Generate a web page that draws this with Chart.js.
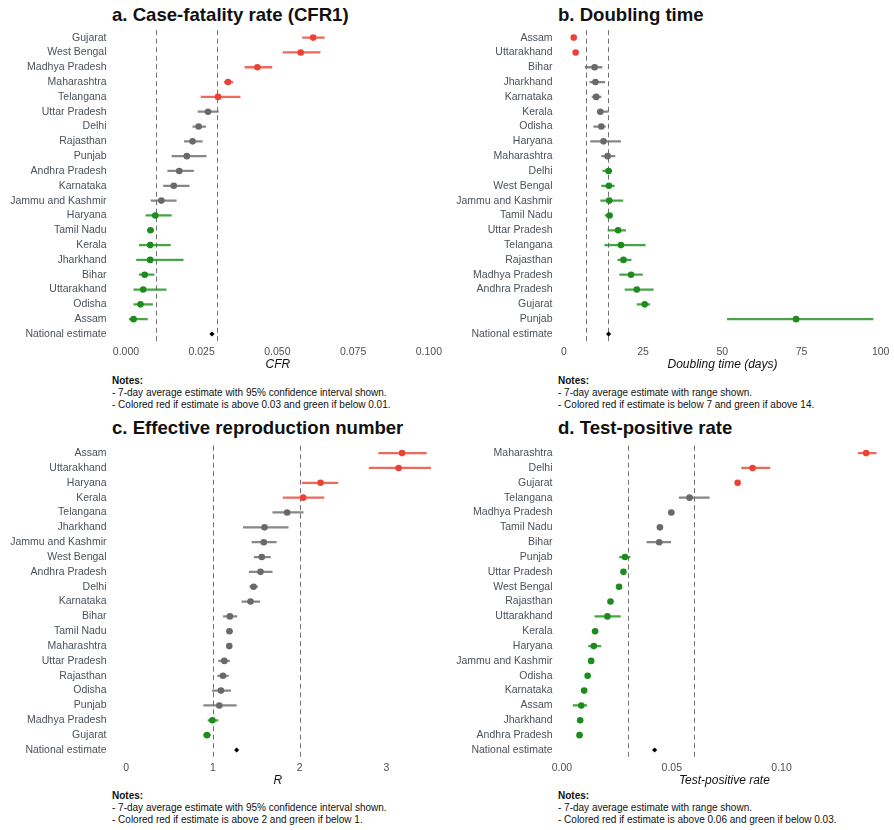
<!DOCTYPE html>
<html>
<head>
<meta charset="utf-8">
<script src="https://cdn.jsdelivr.net/npm/chart.js@4.4.1/dist/chart.umd.min.js"></script>
<style>
  html, body { margin: 0; padding: 0; background: #fff; }
  #page { position: relative; width: 894px; height: 830px; background: #fff; font-family: "Liberation Sans", Arial, sans-serif; }
  canvas { position: absolute; }
  .ptitle { position: absolute; font-weight: bold; font-size: 18.6px; line-height: 20px; color: #111; white-space: nowrap; }
  .notes { position: absolute; font-size: 10px; line-height: 12px; color: #111; white-space: nowrap; }
  .notes b { font-weight: bold; }
</style>
</head>
<body>
<div id="page">
  <div class="ptitle" style="left:112px; top:5px;">a. Case-fatality rate (CFR1)</div>
  <div class="ptitle" style="left:558px; top:5px;">b. Doubling time</div>
  <div class="ptitle" style="left:112px; top:418px;">c. Effective reproduction number</div>
  <div class="ptitle" style="left:558px; top:418px;">d. Test-positive rate</div>

  <canvas id="cfr" width="447" height="372" style="left:0; top:0;"></canvas>
  <canvas id="dbl" width="447" height="372" style="left:447px; top:0;"></canvas>
  <canvas id="rt" width="447" height="372" style="left:0; top:416px;"></canvas>
  <canvas id="tpr" width="447" height="372" style="left:447px; top:416px;"></canvas>

  <div class="notes" style="left:112px; top:375px;"><b>Notes:</b><br>- 7-day average estimate with 95% confidence interval shown.<br>- Colored red if estimate is above 0.03 and green if below 0.01.</div>
  <div class="notes" style="left:558px; top:375px;"><b>Notes:</b><br>- 7-day average estimate with range shown.<br>- Colored red if estimate is below 7 and green if above 14.</div>
  <div class="notes" style="left:112px; top:790px;"><b>Notes:</b><br>- 7-day average estimate with 95% confidence interval shown.<br>- Colored red if estimate is above 2 and green if below 1.</div>
  <div class="notes" style="left:558px; top:790px;"><b>Notes:</b><br>- 7-day average estimate with range shown.<br>- Colored red if estimate is above 0.06 and green if below 0.03.</div>
</div>

<script>
// ---- a. Case-fatality rate (CFR1) ----
const cfrStates = ["Gujarat", "West Bengal", "Madhya Pradesh", "Maharashtra", "Telangana", "Uttar Pradesh", "Delhi", "Rajasthan", "Punjab", "Andhra Pradesh", "Karnataka", "Jammu and Kashmir", "Haryana", "Tamil Nadu", "Kerala", "Jharkhand", "Bihar", "Uttarakhand", "Odisha", "Assam", "National estimate"];
const cfrEst = [0.0618, 0.0577, 0.0434, 0.0337, 0.0304, 0.0271, 0.0240, 0.0220, 0.0201, 0.0176, 0.0158, 0.0117, 0.0097, 0.0081, 0.0080, 0.0080, 0.0062, 0.0057, 0.0048, 0.0025, 0.0284];
const cfrLow = [0.0583, 0.0519, 0.0393, 0.0325, 0.0248, 0.0238, 0.0221, 0.0193, 0.0152, 0.0138, 0.0124, 0.0083, 0.0066, 0.0072, 0.0044, 0.0035, 0.0044, 0.0026, 0.0026, 0.0011, 0.0284];
const cfrHigh = [0.0655, 0.0641, 0.0482, 0.0353, 0.0377, 0.0305, 0.0263, 0.0252, 0.0265, 0.0223, 0.0209, 0.0166, 0.0150, 0.0091, 0.0147, 0.0189, 0.0093, 0.0133, 0.0088, 0.0071, 0.0284];
const cfrTicks = [0, 0.025, 0.05, 0.075, 0.1];
const cfrTickLabels = ["0.000", "0.025", "0.050", "0.075", "0.100"];
const cfrCutoffs = [0.01, 0.03];

// ---- b. Doubling time (days) ----
const dblStates = ["Assam", "Uttarakhand", "Bihar", "Jharkhand", "Karnataka", "Kerala", "Odisha", "Haryana", "Maharashtra", "Delhi", "West Bengal", "Jammu and Kashmir", "Tamil Nadu", "Uttar Pradesh", "Telangana", "Rajasthan", "Madhya Pradesh", "Andhra Pradesh", "Gujarat", "Punjab", "National estimate"];
const dblEst = [3.1, 3.7, 9.7, 9.95, 10.2, 11.5, 11.8, 12.5, 13.8, 14.1, 14.2, 14.3, 14.4, 17.1, 18.0, 18.8, 21.2, 23.0, 25.5, 73.3, 14.1];
const dblLow = [3.1, 3.7, 6.7, 8.2, 8.9, 10.6, 9.4, 8.4, 11.9, 12.3, 11.9, 11.6, 13.0, 13.9, 12.9, 17.0, 17.6, 19.3, 23.1, 51.6, 14.1];
const dblHigh = [3.1, 3.7, 12.0, 12.9, 11.7, 14.0, 13.1, 17.9, 16.1, 15.1, 15.9, 18.6, 15.2, 19.5, 25.7, 21.2, 24.8, 28.2, 27.1, 97.6, 14.1];
const dblTicks = [0, 25, 50, 75, 100];
const dblTickLabels = ["0", "25", "50", "75", "100"];
const dblCutoffs = [7, 14];

// ---- c. Effective reproduction number ----
const rtStates = ["Assam", "Uttarakhand", "Haryana", "Kerala", "Telangana", "Jharkhand", "Jammu and Kashmir", "West Bengal", "Andhra Pradesh", "Delhi", "Karnataka", "Bihar", "Tamil Nadu", "Maharashtra", "Uttar Pradesh", "Rajasthan", "Odisha", "Punjab", "Madhya Pradesh", "Gujarat", "National estimate"];
const rtEst = [3.18, 3.14, 2.24, 2.04, 1.855, 1.594, 1.586, 1.563, 1.548, 1.468, 1.433, 1.195, 1.19, 1.188, 1.131, 1.115, 1.092, 1.073, 0.993, 0.931, 1.273];
const rtLow = [2.91, 2.80, 2.03, 1.81, 1.69, 1.35, 1.45, 1.476, 1.418, 1.425, 1.333, 1.12, 1.166, 1.166, 1.066, 1.054, 0.993, 0.893, 0.943, 0.893, 1.273];
const rtHigh = [3.46, 3.51, 2.44, 2.28, 2.04, 1.867, 1.73, 1.663, 1.683, 1.514, 1.54, 1.276, 1.223, 1.21, 1.19, 1.177, 1.203, 1.269, 1.057, 0.970, 1.273];
const rtTicks = [0, 1, 2, 3];
const rtTickLabels = ["0", "1", "2", "3"];
const rtCutoffs = [1, 2];

// ---- d. Test-positive rate ----
const tprStates = ["Maharashtra", "Delhi", "Gujarat", "Telangana", "Madhya Pradesh", "Tamil Nadu", "Bihar", "Punjab", "Uttar Pradesh", "West Bengal", "Rajasthan", "Uttarakhand", "Kerala", "Haryana", "Jammu and Kashmir", "Odisha", "Karnataka", "Assam", "Jharkhand", "Andhra Pradesh", "National estimate"];
const tprEst = [0.1385, 0.0868, 0.0800, 0.0581, 0.0498, 0.0446, 0.0443, 0.0287, 0.0280, 0.0260, 0.0221, 0.0207, 0.0151, 0.0145, 0.0133, 0.0117, 0.0101, 0.0088, 0.0083, 0.0080, 0.0422];
const tprLow = [0.1349, 0.0818, 0.0800, 0.0534, 0.0498, 0.0446, 0.0387, 0.0262, 0.0278, 0.0258, 0.0219, 0.0150, 0.0149, 0.0121, 0.0131, 0.0115, 0.0099, 0.0051, 0.0081, 0.0078, 0.0422];
const tprHigh = [0.1431, 0.0947, 0.0800, 0.0671, 0.0498, 0.0446, 0.0495, 0.0310, 0.0282, 0.0262, 0.0223, 0.0266, 0.0153, 0.0177, 0.0135, 0.0119, 0.0103, 0.0113, 0.0085, 0.0082, 0.0422];
const tprTicks = [0, 0.05, 0.10];
const tprTickLabels = ["0.00", "0.05", "0.10"];
const tprCutoffs = [0.03, 0.06];

const RED = [234, 67, 53];
const GREY = [105, 105, 105];
const GREEN = [28, 140, 28];
const BLACK = [0, 0, 0];
const rgba = (c, a) => `rgba(${c[0]},${c[1]},${c[2]},${a})`;

const FONT = "'Liberation Sans', Arial, sans-serif";

// vertical dashed reference lines at the colour cut-offs
const cutoffLines = {
  id: 'cutoffLines',
  beforeDatasetsDraw(chart, args, opts) {
    const { ctx, chartArea, scales } = chart;
    ctx.save();
    ctx.strokeStyle = '#707070';
    ctx.lineWidth = 1;
    ctx.setLineDash([5, 3.5]);
    for (const v of opts.values || []) {
      const x = Math.round(scales.x.getPixelForValue(v)) + 0.5;
      ctx.beginPath();
      ctx.moveTo(x, chartArea.top);
      ctx.lineTo(x, chartArea.bottom);
      ctx.stroke();
    }
    ctx.restore();
  }
};

function dotPlot(id, cfg) {
  const colours = cfg.labels.map((lab, i) => lab === 'National estimate' ? BLACK : cfg.classify(cfg.est[i]));
  const ranges = cfg.labels.map((_, i) => [cfg.low[i], cfg.high[i]]);
  return new Chart(document.getElementById(id), {
    type: 'bar',
    data: {
      labels: cfg.labels,
      datasets: [
        {
          type: 'line',
          indexAxis: 'y',
          data: cfg.est,
          showLine: false,
          order: 0,
          pointStyle: cfg.labels.map(l => l === 'National estimate' ? 'rectRot' : 'circle'),
          pointRadius: cfg.labels.map(l => l === 'National estimate' ? 2.6 : 3.3),
          pointBackgroundColor: colours.map(c => rgba(c, 1)),
          pointBorderWidth: 0,
          pointHoverRadius: 3.3
        },
        {
          type: 'bar',
          data: ranges,
          order: 1,
          barThickness: 1.6,
          borderWidth: 0,
          borderSkipped: false,
          backgroundColor: colours.map(c => rgba(c, 0.8))
        }
      ]
    },
    options: {
      indexAxis: 'y',
      responsive: false,
      animation: false,
      devicePixelRatio: 1,
      layout: { padding: { top: cfg.padTop, right: cfg.padRight, left: 0, bottom: 0 } },
      plugins: {
        legend: { display: false },
        tooltip: { enabled: false },
        cutoffLines: { values: cfg.cutoffs }
      },
      scales: {
        x: {
          type: 'linear',
          min: cfg.min,
          max: cfg.max,
          grid: { display: false, drawTicks: false },
          border: { display: false },
          afterBuildTicks: s => { s.ticks = cfg.ticks.map(v => ({ value: v })); },
          afterFit: s => { s.height = 30.6; },
          ticks: {
            padding: 4.5,
            color: '#505050',
            font: { family: FONT, size: 10.5 },
            callback: (v) => cfg.tickLabels[cfg.ticks.indexOf(v)] ?? ''
          },
          title: {
            display: true,
            text: cfg.axisTitle,
            color: '#111',
            padding: { top: 0, bottom: 0 },
            font: { family: FONT, size: 12, style: 'italic' }
          }
        },
        y: {
          type: 'category',
          offset: true,
          grid: { display: false, drawTicks: false },
          border: { display: false },
          afterFit: s => { s.width = cfg.yWidth; },
          ticks: {
            padding: 5.5,
            color: '#4a525a',
            autoSkip: false,
            font: { family: FONT, size: 10.5 }
          }
        }
      }
    },
    plugins: [cutoffLines]
  });
}

dotPlot('cfr', {
  labels: cfrStates, est: cfrEst, low: cfrLow, high: cfrHigh,
  ticks: cfrTicks, tickLabels: cfrTickLabels, cutoffs: cfrCutoffs,
  min: -0.0046, max: 0.1049, axisTitle: 'CFR',
  classify: v => v > 0.03 ? RED : (v < 0.01 ? GREEN : GREY),
  padTop: 30.2, padRight: 1, yWidth: 112
});

dotPlot('dbl', {
  labels: dblStates, est: dblEst, low: dblLow, high: dblHigh,
  ticks: dblTicks, tickLabels: dblTickLabels, cutoffs: dblCutoffs,
  min: -1.87, max: 102, axisTitle: 'Doubling time (days)',
  classify: v => v < 7 ? RED : (v > 14 ? GREEN : GREY),
  padTop: 30.2, padRight: 2, yWidth: 111
});

dotPlot('rt', {
  labels: rtStates, est: rtEst, low: rtLow, high: rtHigh,
  ticks: rtTicks, tickLabels: rtTickLabels, cutoffs: rtCutoffs,
  min: -0.164, max: 3.66, axisTitle: 'R',
  classify: v => v > 2 ? RED : (v < 1 ? GREEN : GREY),
  padTop: 29.7, padRight: 2, yWidth: 112
});

dotPlot('tpr', {
  labels: tprStates, est: tprEst, low: tprLow, high: tprHigh,
  ticks: tprTicks, tickLabels: tprTickLabels, cutoffs: tprCutoffs,
  min: -0.0018, max: 0.1497, axisTitle: 'Test-positive rate',
  classify: v => v > 0.06 ? RED : (v < 0.03 ? GREEN : GREY),
  padTop: 29.7, padRight: 2, yWidth: 111
});
</script>
</body>
</html>
